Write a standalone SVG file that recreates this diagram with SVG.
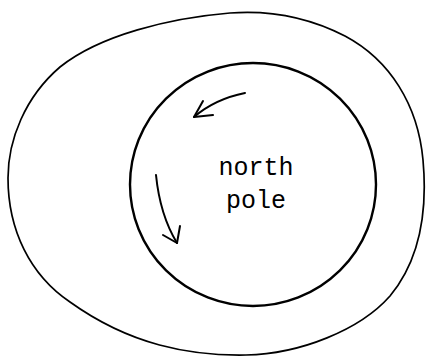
<svg xmlns="http://www.w3.org/2000/svg" width="426" height="356" viewBox="0 0 426 356">
<style>
.ln{fill:none;stroke:#000;stroke-linecap:round;stroke-linejoin:round}
.t{font-family:"Liberation Mono","DejaVu Sans Mono",monospace;font-size:25px;fill:#000}
</style>
<rect width="426" height="356" fill="#fff"/>
<g id="outer">
<path class="ln" stroke-width="1.7" d="M8,178 C8,230 30,275 70,302 C130,345 190,356 246,355 C300,354 360,330 390,296 C418,262 428,215 423,160 C418,105 390,60 345,36 C310,18 270,10 230,13 C170,18 100,35 60,67 C25,97 8,140 8,178 Z"/>
</g>
<g id="inner">
<ellipse class="ln" stroke-width="2.4" cx="253" cy="184.5" rx="123" ry="121.5"/>
<text class="t" x="256" y="175" text-anchor="middle">north</text>
<text class="t" x="256" y="208" text-anchor="middle">pole</text>
</g>
<g id="connectors">
<path class="ln" stroke-width="2" d="M245,93 Q215,99 194,117"/>
<path class="ln" stroke-width="2" d="M203,101 L194,117 L213,115"/>
<path class="ln" stroke-width="2" d="M156,175 Q160,215 177,243"/>
<path class="ln" stroke-width="2" d="M163,235 L177,243 L180,226"/>
</g>
</svg>
